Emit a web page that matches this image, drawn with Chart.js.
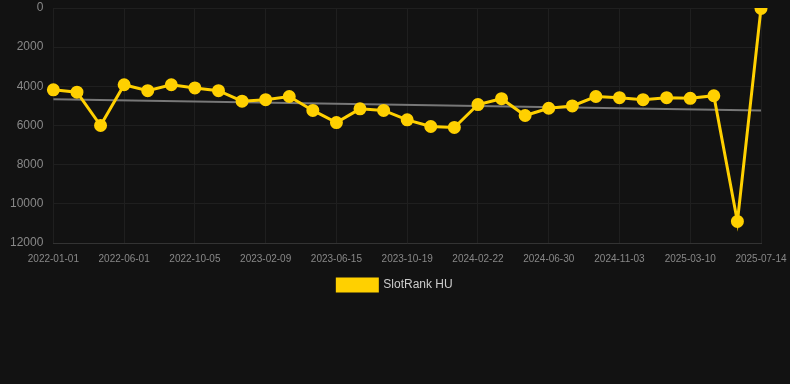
<!DOCTYPE html>
<html>
<head>
<meta charset="utf-8">
<script src="https://cdn.jsdelivr.net/npm/chart.js@4/dist/chart.umd.min.js"></script>
<style>
  html, body { margin: 0; padding: 0; background: #121212; }
  #wrap { position: relative; width: 790px; height: 301px; }
</style>
</head>
<body>
<div id="wrap"><canvas id="c"></canvas></div>
<script>
const categories = [
  "2022-01-01","2022-02-20","2022-04-11","2022-06-01","2022-07-13","2022-08-24",
  "2022-10-05","2022-11-16","2022-12-29","2023-02-09","2023-03-23","2023-05-04",
  "2023-06-15","2023-07-27","2023-09-07","2023-10-19","2023-11-30","2024-01-11",
  "2024-02-22","2024-04-04","2024-05-18","2024-06-30","2024-08-11","2024-09-22",
  "2024-11-03","2024-12-15","2025-01-27","2025-03-10","2025-04-21","2025-06-02",
  "2025-07-14"
];
const slotRankHU = [
  4180, 4300, 6000, 3920, 4220, 3920, 4080, 4220, 4760, 4680, 4520,
  5230, 5850, 5150, 5230, 5710, 6050, 6100, 4930, 4630, 5490, 5120,
  5000, 4520, 4580, 4680, 4580, 4610, 4480, 10900, 20
];
const trendStart = 4660;
const trendEnd = 5240;
const trendLine = categories.map((_, i) => i === 0 ? trendStart : (i === categories.length - 1 ? trendEnd : null));
const yTicks = [0, 2000, 4000, 6000, 8000, 10000, 12000];

new Chart(document.getElementById('c'), {
  type: 'line',
  data: {
    labels: categories,
    datasets: [
      {
        label: 'SlotRank HU',
        data: slotRankHU,
        borderColor: '#FFD000',
        backgroundColor: '#FFD000',
        borderWidth: 3,
        pointRadius: 5,
        pointHoverRadius: 5,
        pointBackgroundColor: '#FFD000',
        pointBorderColor: '#FFD000',
        tension: 0,
        order: 1
      },
      {
        label: 'trend',
        data: trendLine,
        borderColor: '#777777',
        borderWidth: 2,
        pointRadius: 0,
        spanGaps: true,
        fill: false,
        order: 2
      }
    ]
  },
  options: {
    responsive: true,
    maintainAspectRatio: false,
    animation: false,
    layout: { padding: 0 },
    plugins: {
      legend: {
        position: 'bottom',
        labels: {
          color: '#cccccc',
          font: { family: 'Liberation Sans, Arial, sans-serif', size: 12 },
          boxWidth: 40,
          boxHeight: 12,
          filter: (item) => item.text !== 'trend'
        }
      },
      tooltip: { enabled: false }
    },
    scales: {
      x: {
        grid: { color: '#1f1f1f', drawTicks: false },
        border: { color: '#333333' },
        afterFit: (s) => { s.paddingRight = 29; s.paddingLeft = 0; s.height -= 6; },
        ticks: {
          color: '#888888',
          font: { family: 'Liberation Sans, Arial, sans-serif', size: 10 },
          maxRotation: 0,
          autoSkip: false,
          padding: 10,
          callback: function(v, i) { return i % 3 === 0 ? categories[i] : null; }
        }
      },
      y: {
        reverse: true,
        min: yTicks[0],
        max: yTicks[yTicks.length - 1],
        grid: { color: '#1f1f1f', drawTicks: false },
        border: { display: false },
        afterFit: (s) => { s.paddingTop = 7; s.paddingBottom = 0; },
        afterBuildTicks: (axis) => { axis.ticks = yTicks.map(v => ({ value: v })); },
        ticks: {
          color: '#888888',
          font: { family: 'Liberation Sans, Arial, sans-serif', size: 12 },
          padding: 10,
          callback: (v) => String(v)
        }
      }
    }
  }
});
</script>
</body>
</html>
